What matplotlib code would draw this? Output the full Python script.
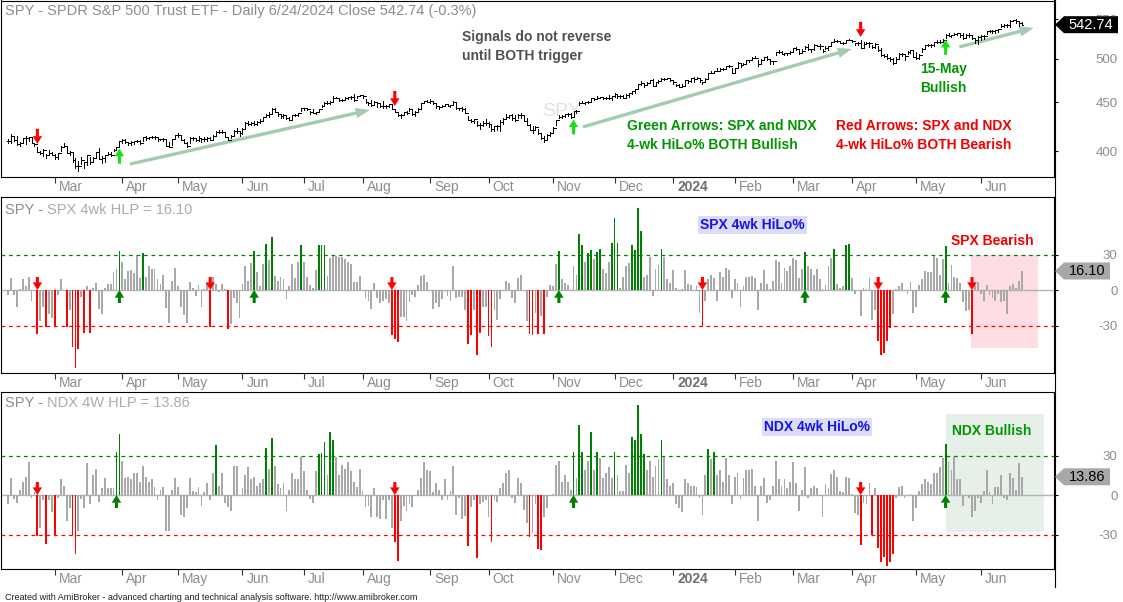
import numpy as np
import pandas as pd
import matplotlib
matplotlib.use("Agg")
import matplotlib.pyplot as plt
from matplotlib.patches import Polygon, Rectangle
from matplotlib.lines import Line2D
from matplotlib.transforms import IdentityTransform

plt.rcParams['font.family'] = ['Liberation Sans', 'DejaVu Sans']

# ---------------- data ----------------
holidays = ['2023-02-20', '2023-04-07', '2023-05-29', '2023-06-19', '2023-07-04',
            '2023-09-04', '2023-11-23', '2023-12-25', '2024-01-01', '2024-01-15',
            '2024-02-19', '2024-03-29', '2024-05-27', '2024-06-19']

close = [
    # Feb 2023
    409.8, 415.2, 410.7, 407.1, 408.0, 412.8, 412.6, 414.0, 408.3, 407.3, 399.1, 398.5, 400.7, 396.4, 397.7, 396.3,
    # Mar
    394.7, 397.8, 404.2, 404.5, 398.3, 398.9, 391.6, 385.9, 385.4, 391.7, 389.3, 396.1, 390.0, 393.7, 398.9, 392.1,
    393.2, 395.8, 397.5, 396.5, 401.4, 403.7, 409.4,
    # Apr
    411.0, 408.7, 407.6, 409.2, 409.6, 409.7, 408.1, 413.5, 412.5, 413.9, 414.2, 414.1, 411.9, 412.2, 412.1, 405.1,
    404.0, 411.7, 415.9,
    # May
    415.5, 410.8, 408.0, 405.1, 412.6, 412.9, 410.9, 412.9, 412.1, 411.6, 413.0, 410.5, 415.2, 419.0, 418.6, 418.8,
    414.1, 411.1, 414.7, 420.0, 420.2, 417.9,
    # Jun
    421.8, 427.9, 427.1, 428.0, 426.6, 429.1, 429.9, 433.8, 436.7, 437.2, 442.6, 439.5, 437.2, 434.9, 436.5, 433.2,
    431.4, 436.2, 436.4, 438.1, 443.3,
    # Jul
    443.8, 443.1, 439.7, 438.6, 439.7, 442.5, 446.0, 449.6, 449.3, 450.8, 455.2, 455.2, 452.2, 452.2, 454.2, 455.4,
    455.5, 452.5, 456.9, 457.8,
    # Aug
    456.5, 450.1, 448.8, 446.8, 450.7, 448.8, 445.8, 445.9, 445.7, 448.1, 442.9, 439.6, 436.3, 436.5, 439.3, 438.2,
    443.0, 436.9, 440.0, 442.8, 449.2, 451.0, 450.4,
    # Sep
    451.2, 449.2, 446.2, 444.9, 445.5, 448.5, 446.0, 446.5, 450.4, 443.4, 443.6, 442.7, 438.6, 431.4, 430.4, 432.2,
    425.9, 426.1, 428.5, 427.5,
    # Oct
    427.3, 421.6, 424.7, 424.5, 429.5, 432.3, 434.5, 436.3, 433.7, 431.5, 436.0, 436.0, 430.2, 426.4, 421.2, 420.5,
    423.6, 417.6, 412.6, 410.7, 415.6, 418.2,
    # Nov
    422.7, 430.8, 434.7, 435.7, 436.9, 437.3, 433.8, 440.6, 440.2, 448.7, 449.7, 450.2, 450.8, 454.3, 453.3, 455.0,
    455.3, 454.5, 454.9, 454.6, 456.4,
    # Dec
    459.1, 456.7, 456.6, 454.8, 458.2, 460.2, 462.0, 464.1, 470.5, 472.0, 469.3, 472.0, 474.8, 468.3, 472.7, 473.7,
    475.7, 476.5, 476.7, 475.3,
    # Jan 2024
    472.7, 468.8, 467.3, 467.9, 474.6, 473.9, 476.6, 476.4, 476.7, 474.9, 472.3, 476.5, 482.4, 483.5, 484.9, 485.4,
    488.0, 487.4, 491.3, 490.9, 482.9,
    # Feb
    489.2, 494.4, 492.6, 494.0, 498.1, 498.3, 501.2, 501.0, 494.1, 498.6, 502.0, 499.5, 496.8, 497.2, 507.5, 507.9,
    506.0, 506.9, 506.3, 508.1,
    # Mar
    512.9, 512.3, 507.2, 509.8, 514.8, 511.7, 511.3, 516.8, 516.0, 515.0, 509.8, 512.9, 515.7, 520.5, 522.2, 521.2,
    519.8, 518.8, 523.2, 523.1,
    # Apr
    522.2, 518.8, 519.4, 513.1, 518.4, 518.7, 519.3, 514.1, 518.0, 510.9, 504.5, 503.5, 500.6, 499.5, 495.2, 499.7,
    505.7, 505.4, 503.5, 508.3, 510.1, 502.0,
    # May
    500.4, 505.0, 511.3, 516.8, 517.1, 517.2, 520.2, 520.8, 520.9, 523.3, 529.8, 528.7, 529.5, 530.1, 531.4, 529.8,
    526.0, 529.4, 529.8, 526.1, 522.6, 527.4,
    # Jun
    527.8, 528.4, 534.7, 534.7, 534.0, 535.7, 537.0, 541.4, 542.5, 542.8, 547.1, 548.5, 547.0, 544.5, 542.74,
]

high = [
    411.3, 416.5, 414.5, 414.6, 409.0, 412.9, 415.0, 414.1, 412.9, 407.5, 404.1, 400.3, 401.9, 397.2, 400.7, 399.2,
    396.7, 398.1, 404.4, 407.5, 404.7, 399.7, 399.0, 393.3, 390.4, 394.4, 389.7, 396.5, 394.0, 394.5, 399.0, 402.5,
    395.3, 396.0, 398.9, 399.1, 402.0, 404.0, 409.7,
    411.9, 411.9, 408.7, 409.7, 409.7, 411.2, 411.2, 413.6, 415.1, 414.0, 414.4, 414.5, 413.7, 412.2, 412.9, 411.0,
    408.7, 412.1, 416.0,
    417.6, 415.8, 411.8, 409.0, 413.4, 413.7, 412.4, 414.5, 412.4, 413.4, 413.7, 413.3, 415.6, 419.7, 420.7, 420.7,
    418.2, 412.8, 416.2, 420.8, 422.6, 418.7,
    422.9, 428.7, 429.6, 428.6, 429.6, 429.6, 431.9, 433.9, 437.3, 439.1, 443.9, 443.6, 438.4, 436.8, 436.9, 435.1,
    434.6, 436.8, 437.4, 438.3, 443.3,
    444.1, 443.9, 440.1, 442.6, 440.0, 442.9, 447.5, 450.4, 451.4, 451.0, 456.4, 456.0, 455.1, 454.0, 455.7, 456.1,
    456.9, 459.4, 457.3, 458.2,
    457.3, 453.1, 450.8, 452.9, 450.9, 449.3, 448.7, 451.7, 446.7, 448.3, 446.6, 442.8, 440.0, 437.0, 439.7, 440.3,
    443.8, 442.8, 440.9, 443.4, 449.5, 451.7, 452.1,
    453.7, 451.1, 448.5, 445.2, 447.1, 448.5, 448.4, 447.5, 451.1, 448.8, 444.1, 444.9, 444.2, 435.0, 432.2, 432.3,
    430.3, 427.7, 430.0, 431.9,
    428.6, 427.0, 425.4, 425.5, 431.1, 432.9, 437.2, 436.6, 437.3, 436.1, 437.1, 438.1, 435.2, 432.8, 426.5, 424.8,
    424.8, 421.9, 416.7, 414.6, 416.7, 418.5,
    423.5, 431.0, 436.3, 436.1, 437.7, 438.1, 438.5, 440.9, 441.3, 450.1, 451.4, 450.6, 451.4, 455.1, 454.8, 456.4,
    455.5, 456.0, 456.3, 458.3, 456.8,
    459.7, 459.1, 457.6, 458.2, 458.8, 460.7, 462.2, 464.2, 470.8, 473.8, 470.7, 472.7, 474.9, 475.9, 472.9, 475.4,
    476.6, 476.7, 477.6, 477.0,
    473.7, 470.0, 470.8, 470.4, 474.8, 474.9, 477.4, 478.1, 478.6, 476.6, 472.8, 477.1, 482.7, 485.2, 485.2, 488.8,
    488.8, 489.1, 491.3, 492.1, 489.2,
    489.2, 496.0, 494.3, 494.8, 498.5, 498.7, 501.6, 503.5, 498.4, 499.1, 502.2, 502.9, 498.4, 497.4, 508.0, 510.1,
    508.8, 507.2, 506.9, 509.7,
    513.3, 514.0, 512.3, 512.1, 515.0, 518.2, 511.9, 517.4, 517.3, 517.9, 511.9, 514.9, 516.0, 520.6, 524.1, 522.6,
    520.8, 521.0, 523.2, 524.6,
    523.4, 518.9, 520.4, 523.2, 520.4, 520.2, 520.2, 516.2, 519.0, 515.8, 513.0, 505.8, 506.2, 502.4, 500.5, 502.4,
    506.5, 507.4, 504.5, 509.6, 510.8, 509.9,
    508.5, 505.9, 512.6, 516.8, 518.6, 517.8, 520.2, 522.6, 522.7, 523.8, 530.1, 531.5, 529.5, 531.6, 531.5, 532.5,
    532.4, 530.3, 531.5, 527.5, 525.2, 527.5,
    529.3, 529.1, 534.7, 535.4, 536.2, 535.9, 537.0, 544.1, 543.3, 543.0, 548.5, 549.0, 550.3, 545.7, 546.2,
]

low = [
    407.7, 407.6, 409.9, 405.8, 405.0, 408.1, 407.3, 409.5, 408.2, 404.4, 398.9, 396.8, 395.4, 393.6, 396.6, 396.2,
    392.7, 392.2, 399.6, 404.1, 397.9, 396.6, 390.0, 384.3, 380.7, 387.3, 383.9, 386.5, 387.9, 389.4, 394.0, 392.0,
    388.2, 389.4, 396.3, 395.2, 400.0, 400.8, 404.2,
    408.2, 407.6, 405.8, 405.9, 406.7, 408.5, 407.2, 409.9, 411.0, 411.4, 412.6, 412.2, 410.2, 410.4, 409.9, 404.9,
    403.7, 406.3, 411.3,
    414.0, 410.4, 407.9, 403.7, 407.9, 411.1, 410.0, 409.9, 409.3, 409.4, 410.2, 410.5, 411.8, 414.7, 417.6, 417.7,
    414.1, 410.6, 412.3, 415.9, 417.4, 414.7,
    416.8, 423.0, 426.4, 426.2, 425.8, 426.1, 428.5, 430.0, 434.0, 434.6, 437.9, 439.1, 435.0, 433.0, 433.0, 432.5,
    431.0, 432.5, 434.9, 435.1, 440.3,
    442.1, 441.9, 437.1, 438.3, 437.1, 440.1, 444.9, 447.5, 447.7, 448.2, 450.6, 454.5, 451.4, 451.5, 453.9, 454.1,
    453.2, 451.6, 454.4, 456.8,
    455.2, 449.3, 447.4, 446.3, 447.8, 444.6, 445.3, 443.4, 443.9, 444.4, 442.6, 439.2, 435.4, 433.0, 437.5, 437.1,
    441.0, 436.3, 435.0, 440.8, 442.4, 448.9, 450.1,
    449.7, 448.1, 443.9, 442.8, 444.5, 446.0, 445.7, 444.7, 447.6, 442.7, 442.1, 440.6, 438.5, 431.2, 429.5, 428.0,
    425.0, 422.3, 424.8, 425.9,
    424.1, 420.2, 420.0, 421.2, 420.2, 427.0, 432.2, 433.0, 431.2, 429.9, 433.0, 433.0, 429.9, 425.7, 421.1, 417.8,
    420.9, 417.2, 411.6, 409.2, 412.2, 414.3,
    418.6, 425.7, 433.0, 433.7, 434.3, 435.6, 433.5, 433.8, 439.0, 446.9, 448.8, 448.2, 449.7, 449.8, 453.0, 453.6,
    454.5, 454.1, 453.5, 453.6, 453.0,
    455.5, 455.2, 454.3, 454.7, 456.2, 455.9, 459.5, 460.6, 464.1, 469.2, 467.4, 469.9, 472.8, 468.2, 468.8, 471.7,
    474.0, 474.9, 476.1, 473.3,
    470.5, 468.2, 467.0, 466.4, 468.4, 471.9, 473.0, 472.3, 475.7, 472.4, 469.9, 472.3, 476.6, 482.8, 482.4, 484.9,
    485.5, 486.5, 487.4, 489.6, 482.9,
    483.8, 489.3, 490.2, 491.8, 494.9, 496.5, 498.5, 500.2, 490.7, 494.0, 499.1, 498.8, 493.6, 493.6, 504.6, 507.1,
    505.5, 504.7, 504.8, 505.5,
    508.6, 510.6, 506.0, 508.2, 512.2, 511.1, 508.5, 510.9, 515.3, 511.8, 508.6, 511.6, 511.0, 515.1, 521.6, 520.2,
    519.5, 518.6, 519.5, 522.8,
    520.0, 516.5, 516.4, 512.8, 514.0, 518.0, 514.3, 512.6, 513.6, 509.2, 503.8, 502.0, 499.7, 497.6, 493.9, 495.4,
    500.6, 503.8, 498.5, 505.8, 507.2, 501.5,
    499.9, 499.6, 508.6, 513.3, 516.1, 514.8, 516.1, 519.0, 519.1, 520.5, 525.8, 528.5, 527.1, 529.2, 528.9, 527.4,
    524.6, 526.9, 526.8, 524.9, 519.0, 518.3,
    522.6, 524.7, 530.3, 532.7, 531.5, 531.8, 532.6, 539.2, 539.6, 540.2, 540.0, 547.3, 545.6, 541.4, 542.4,
]

spx_hlp = [
    -4, 10, -4, -14, 1, 9, 3, 11, -9, -1, -37, -26, -14, -31, -20, -24, -31, -4, 9, 0,
    -31, -17, -48, -66, -50, -6, -36, 3, -36, 2, 6, -16, -20, 2, 5, 5, 15, 18, 33, 24,
    9, 16, 17, 14, 29, 10, 31, 11, 20, 18, 18, 9, 5, 13, -15, -28, 8, 19, 3, -14,
    -21, -28, 7, 2, -5, 4, -14, 1, 6, -31, 11, 5, -2, 5, 1, -33, -29, -7, -11, -24,
    5, 20, 8, 23, 33, 15, 3, 22, 39, 25, 45, 12, 8, 11, 9, -8, 3, 22, 10, 24,
    38, 24, 11, 4, 2, 17, 38, 38, 38, 12, 27, 29, 29, 28, 28, 26, 24, 22, 7, 7,
    12, 0, -7, -9, -16, 6, -7, -11, -9, -8, -11, -38, -41, -44, -23, -23, -26, -10, -4, -6,
    4, 12, 13, 7, 0, -16, -11, -14, -8, -1, -5, -9, 20, -7, -6, -6, -17, -46, -38, -17,
    -55, -36, -14, -14, -39, -48, -17, -25, -8, 0, 8, 6, -7, -11, 10, 13, 0, -26, -37, -38,
    -19, -37, -22, -37, -6, 4, 3, 22, 33, 9, 6, 4, -1, 20, 13, 47, 38, 24, 31, 34,
    26, 32, 35, 18, 14, 24, 40, 61, 40, 2, 11, 20, 23, 38, 34, 69, 50, 11, 13, 28,
    -5, 18, 21, 35, 28, 9, 6, 17, 2, -1, 1, 17, 5, 4, 0, 3, -19, -31, -9, 9,
    13, 10, -9, 15, 11, 19, 17, -7, 9, 6, -14, 3, 11, 11, 12, 10, -17, 6, 17, 5,
    1, 8, 25, 24, 6, 19, 16, 20, 27, 25, 10, 18, 32, 20, 18, 13, 18, 9, 1, 4,
    20, 27, 35, 5, 2, 3, 38, 39, 10, -3, 0, -22, 2, 1, 10, -25, -17, -43, -55, -53,
    -43, -32, -20, 1, 3, 6, -1, -3, 7, -19, -14, 4, 9, 16, 15, 15, 29, 27, 13, 26,
    37, 6, 21, 11, 10, 6, -10, -18, -17, -37, 4, 7, -3, -9, 4, -4, -7, -9, -3, -10,
    -9, -20, 3, 5, 2, 8, 16.10,
]

ndx_hlp = [
    -7, 13, -3, -6, 4, 10, 14, 25, -2, 2, -31, -25, -4, -37, -4, -13, -30.5, -2, 12, 7,
    -20, -10, -30.5, -45, -27, -3, -10, 24, -7, 15, 20, -5, 5, 13, 5, 5, 5, 33, 46, 26,
    13, 14, 12, 17, 17, 10, 22, 14, 10, 12, 6, -4, 4, 6, -27, -27, 4, 13, 6, -15,
    -17, -10, 13, 3, 2, 6, -8, 2, 9, -4, 17, 38, 7, 17, -6, -9, -12, 22, 22, -1,
    5, 15, 21, 12, 14, 7, 9, 12, 36, 20, 43, 22, 8, 5, 9, -12, 4, 17, 12, 12,
    29, 18, 4, -3, -6, 18, 31, 32, 40, 15, 48, 42, 29, 15, 23, 20, 25, 18, 10, 6,
    20, 3, -9, -8, -17, 5, -17, -18, -4, -18, -4, -25, -36, -50, -20, -8, -12, -7, -9, -1,
    4, 13, 25, 19, 18, 2, 9, 4, -4, 12, -4, 3, 22, -15, -2, -18, -16, -39, -9, -4,
    -48, -7, -5, -4, -17, -36, -4, -5, 5, 9, 17, 19, -2, -6, 13, 9, -11, -21, -32, -29,
    -7, -41, -42, -17, -10, -1, 1, 23, 26, 10, 15, 10, 4, 33, 13, 53, 33, 19, 26, 48,
    19, 33, 28, 13, 17, 21, 13, 33, 15, 3, 3, 23, 17, 44, 42, 68, 46, 31, 19, 26,
    14, 22, 27, 42, 29, 12, 7, 9, -7, -10, -13, 12, 9, 7, 7, 6, -2, -15, 15, 35,
    27, 33, 15, 19, 10, 28, 15, -7, 14, 17, -3, 13, 19, 19, 20, 7, -20, 7, 13, -6,
    -4, 7, 26, 12, 7, 12, 5, 10, 25, 9, -12, 4, 21, -2, 5, 7, 5, -1, -17, 8,
    5, 16, 19, 14, 3, 2, 14, 13, 1, -14, -15, -38, -6, -7, 9, -30.5, 5, -40, -51, -47,
    -54, -51, -45, -2, 6, 7, -2, -1, 1, -20, -10, 3, 8, 12, 10, 8, 17, 17, 21, 28,
    39, 25, 19, 29, 12, 12, -8, -1, -2, -17, -12, -2, -6, 3, 19, 2, -7, 6, 6, 15,
    -2, -4, 17, 13, 4, 24, 13.86,
]

# signal days (bar index)
top_red = [10, 132, 291]
top_green = [38, 193, 320]
spx_red = [10, 69, 131, 237, 297, 329]
spx_green = [38, 84, 188, 272, 320]
ndx_red = [10, 132, 291]
ndx_green = [37, 193, 320]

# ---------------- setup ----------------
dates = pd.bdate_range('2023-02-06', '2024-06-24')
dates = dates[~dates.isin(pd.to_datetime(holidays))]
n = len(dates)
x = np.arange(n)
close = np.array(close)
high = np.array(high)
low = np.array(low)
spx = np.array(spx_hlp, dtype=float)
ndx = np.array(ndx_hlp, dtype=float)
prev_close = np.r_[close[0], close[:-1]]

W, H = 1123, 602
fig = plt.figure(figsize=(W / 100, H / 100), dpi=100)
fig.patch.set_facecolor('white')
RIGHT = 1054


def add_panel(top, bottom):
    ax = fig.add_axes([1 / W, 1 - bottom / H, (RIGHT - 1) / W, (bottom - top) / H])
    for s in ax.spines.values():
        s.set_color('black')
        s.set_linewidth(0.8)
    ax.set_xlim(-2.42, 357.0)
    return ax


ax1 = add_panel(0.5, 177.3)
ax2 = add_panel(196.7, 373.3)
ax3 = add_panel(392.3, 569.3)

GRAY_LAB = '#8c8c8c'
month_idx = [i for i in range(1, n) if dates[i].month != dates[i - 1].month]
month_lab = ['2024' if dates[i].month == 1 else dates[i].strftime('%b') for i in month_idx]

for ax in (ax1, ax2, ax3):
    ax.set_xticks(month_idx)
    ax.set_xticklabels([])
    ax.tick_params(axis='x', direction='out', length=4, width=0.8, color='#333333')
    for i, lab in zip(month_idx, month_lab):
        bold = lab == '2024'
        ax.annotate(lab, xy=(i, 0), xycoords=('data', 'axes fraction'), xytext=(4, -10),
                    textcoords='offset pixels', ha='left', va='center', fontsize=10,
                    color='#707070' if bold else GRAY_LAB,
                    fontweight='bold' if bold else 'normal')


def right_axis(ax, ticks, labels):
    ax.yaxis.tick_right()
    ax.minorticks_off()
    ax.set_yticks(ticks)
    ax.set_yticklabels(labels)
    ax.tick_params(axis='y', which='both', direction='out', length=3.2, width=0.8,
                   color='black', labelcolor=GRAY_LAB, labelsize=9.5, pad=42.5)
    for t in ax.get_yticklabels():
        t.set_horizontalalignment('right')


def ptext(ax, px, py, s, **kw):
    return ax.annotate(s, xy=(px, H - py), xycoords='figure pixels', va='center', ha='left', **kw)


def sig_arrow(ax, i, yv, up, color, length=13, scale=11):
    ax.annotate('', xy=(i, yv), xytext=(0, -length if up else length), textcoords='offset pixels',
                arrowprops=dict(arrowstyle='simple,head_length=0.5,head_width=0.62,tail_width=0.2',
                                mutation_scale=scale, color=color, lw=0, shrinkA=0, shrinkB=0),
                zorder=6)


# ---------------- top panel: price ----------------
ax1.set_yscale('log')
ax1.set_ylim(375.4, 575.4)
right_axis(ax1, [400, 450, 500, 550], ['400', '450', '500', '550'])
ax1.vlines(x, low, high, color='black', lw=0.72, antialiased=False, zorder=3)
ax1.hlines(prev_close, x - 0.45, x, color='black', lw=0.72, antialiased=False, zorder=3)
ax1.hlines(close, x, x + 0.45, color='black', lw=0.72, antialiased=False, zorder=3)

ptext(ax1, 5, 11, 'SPY - SPDR S&P 500 Trust ETF - Daily 6/24/2024 Close 542.74 (-0.3%)',
      color=GRAY_LAB, fontsize=10.5)
ptext(ax1, 542, 112, 'SPY', color='#e2e2e2', fontsize=14, zorder=1)

# trend arrows (annotation)
for (i0, p0, i1, p1) in [(41.6, 387.6, 123.5, 441.7), (196.2, 424.0, 288.0, 511.9),
                         (324.7, 514.4, 350.1, 538.6)]:
    ax1.annotate('', xy=(i1, p1), xytext=(i0, p0),
                 arrowprops=dict(arrowstyle='simple,head_length=0.85,head_width=0.62,tail_width=0.2',
                                 mutation_scale=12, color='#a4cbb2', lw=0, shrinkA=0, shrinkB=0),
                 zorder=2)

for i in top_red:
    sig_arrow(ax1, i, high[i] * np.exp(3 / 413.6), False, '#ff0000', length=15, scale=11)
for i in top_green:
    sig_arrow(ax1, i, low[i] / np.exp(2 / 413.6), True, '#18e018', length=15, scale=11)

bold_kw = dict(fontsize=10, fontweight='bold')
ptext(ax1, 462, 37, 'Signals do not reverse', color='#505050', **bold_kw)
ptext(ax1, 462, 56, 'until BOTH trigger', color='#505050', **bold_kw)
ptext(ax1, 627, 126, 'Green Arrows: SPX and NDX', color='#009600', **bold_kw)
ptext(ax1, 627, 145, '4-wk HiLo% BOTH Bullish', color='#009600', **bold_kw)
ptext(ax1, 836, 126, 'Red Arrows: SPX and NDX', color='#f00000', **bold_kw)
ptext(ax1, 836, 145, '4-wk HiLo% BOTH Bearish', color='#f00000', **bold_kw)
ptext(ax1, 920, 69, '15-May', color='#009600', **bold_kw)
ptext(ax1, 920, 88, 'Bullish', color='#009600', **bold_kw)


# ---------------- HLP panels ----------------
def hlp_panel(ax, vals, ylim, reds, greens, name, label, label_xy, shade, shade_color,
              note, note_color, note_xy):
    ax.set_ylim(*ylim)
    right_axis(ax, [-30, 0, 30], ['-30', '0', '30'])
    ax.add_patch(Rectangle((shade[0], shade[2]), shade[1] - shade[0], shade[3] - shade[2],
                           facecolor=shade_color, edgecolor='none', zorder=0))
    ax.axhline(0, color='#b4b4b4', lw=1.0, zorder=1)
    ax.axhline(30, color='#008000', lw=0.9, ls=(0, (3, 3)), zorder=1)
    ax.axhline(-30, color='#ff0000', lw=0.9, ls=(0, (3, 3)), zorder=1)
    cols = np.where(vals >= 30, '#008000', np.where(vals <= -30, '#ff0000', '#a8a8a8'))
    ax.bar(x, vals, width=0.62, color=cols, linewidth=0, zorder=2)
    for i in reds:
        sig_arrow(ax, i, 0, False, '#ff0000')
    for i in greens:
        sig_arrow(ax, i, 0, True, '#008000')
    t1 = ptext(ax, 5, label_xy, 'SPY -', color='#8c8c8c', fontsize=10.5)
    ax.annotate(name, xy=(1, 0.5), xycoords=t1, xytext=(4, 0), textcoords='offset pixels',
                va='center', ha='left', color='#ababab', fontsize=10.5)
    ptext(ax, label[1], label[2], label[0], color='#1414e6', fontsize=10, fontweight='bold',
          bbox=dict(boxstyle='square,pad=0.15', facecolor='#dcdcf8', edgecolor='none'))
    ptext(ax, note_xy[0], note_xy[1], note, color=note_color, **bold_kw)


hlp_panel(ax2, spx, (-70.4, 78.9), spx_red, spx_green, 'SPX 4wk HLP = 16.10',
          ('SPX 4wk HiLo%', 700, 225), 210, (328.7, 351.4, -48.8, 30), '#fddde3',
          'SPX Bearish', '#f00000', (951, 241))
hlp_panel(ax3, ndx, (-56.4, 78.0), ndx_red, ndx_green, 'NDX 4W HLP = 13.86',
          ('NDX 4wk HiLo%', 764, 427), 403, (320.1, 353.6, -27.9, 61.5), '#e6f0e9',
          'NDX Bullish', '#009600', (952, 431))


# ---------------- right side value boxes ----------------
def value_box(ax, val, txt, face, tcolor, right):
    yd = ax.transData.transform((0, val))[1]
    hh = 8.5
    pts = [(RIGHT + 1, yd), (RIGHT + 10, yd + hh), (right, yd + hh), (right, yd - hh), (RIGHT + 10, yd - hh)]
    fig.add_artist(Polygon(pts, closed=True, transform=IdentityTransform(), facecolor=face,
                           edgecolor='none', zorder=5))
    fig.text((RIGHT + 10 + right) / 2 / W, yd / H, txt, ha='center', va='center',
             color=tcolor, fontsize=10.5, zorder=6)


value_box(ax1, close[-1], '542.74', 'black', 'white', 1118)
value_box(ax2, spx[-1], '16.10', '#a8a8a8', 'black', 1110)
value_box(ax3, ndx[-1], '13.86', '#a8a8a8', 'black', 1110)

fig.add_artist(Line2D([RIGHT + 0.5, RIGHT + 0.5], [H, H - 587], transform=IdentityTransform(),
                      color='black', lw=0.8, zorder=4))

fig.text(5 / W, 1 - 597 / H, 'Created with AmiBroker - advanced charting and technical analysis software. '
         'http://www.amibroker.com', fontsize=6.5, color='#202020', ha='left', va='center')

fig.savefig('out.png', dpi=100, facecolor='white')
